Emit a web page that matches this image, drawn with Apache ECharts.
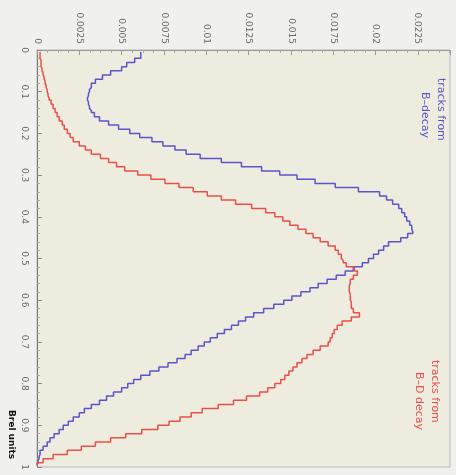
<!DOCTYPE html>
<html><head><meta charset="utf-8">
<script src="https://cdn.jsdelivr.net/npm/echarts@6/dist/echarts.min.js"></script>
<style>html,body{margin:0;padding:0;background:#f0f0ee}#c{width:456px;height:475px}</style>
</head><body><div id="c"></div>
<script>
// 100 histogram bins over the variable range 0..1 (rel. units); labels are bin centres
const binCount = 100;
const binCenters = Array.from({length: binCount}, (_, i) => ((i + 0.5) / binCount).toFixed(3));
// tracks from B-decay (blue), fraction per bin
const tracksFromB = [
  0.00613,0.00613,0.00577,0.00530,0.00500,0.00435,0.00387,0.00345,0.00321,0.00310,
  0.00304,0.00298,0.00304,0.00310,0.00321,0.00339,0.00369,0.00423,0.00482,0.00548,
  0.00607,0.00679,0.00744,0.00815,0.00881,0.00964,0.01089,0.01208,0.01327,0.01434,
  0.01536,0.01643,0.01762,0.01899,0.02024,0.02065,0.02101,0.02137,0.02155,0.02172,
  0.02184,0.02202,0.02214,0.02220,0.02190,0.02149,0.02077,0.02048,0.02018,0.01988,
  0.01958,0.01922,0.01869,0.01821,0.01768,0.01714,0.01661,0.01613,0.01559,0.01506,
  0.01458,0.01399,0.01339,0.01280,0.01232,0.01190,0.01149,0.01107,0.01065,0.01024,
  0.00988,0.00952,0.00911,0.00875,0.00827,0.00774,0.00720,0.00667,0.00613,0.00571,
  0.00536,0.00500,0.00452,0.00411,0.00369,0.00321,0.00280,0.00250,0.00214,0.00185,
  0.00155,0.00131,0.00101,0.00077,0.00060,0.00036,0.00018,0.00012,0.00006,0.00000];
// tracks from B-D decay (red), fraction per bin
const tracksFromBD = [
  0.00018,0.00018,0.00024,0.00024,0.00030,0.00036,0.00042,0.00048,0.00054,0.00060,
  0.00065,0.00071,0.00083,0.00095,0.00107,0.00119,0.00131,0.00149,0.00161,0.00179,
  0.00196,0.00214,0.00250,0.00286,0.00321,0.00375,0.00423,0.00470,0.00518,0.00595,
  0.00673,0.00756,0.00839,0.00923,0.01006,0.01089,0.01173,0.01268,0.01351,0.01405,
  0.01452,0.01494,0.01542,0.01589,0.01631,0.01673,0.01720,0.01762,0.01780,0.01798,
  0.01809,0.01827,0.01875,0.01893,0.01869,0.01851,0.01845,0.01845,0.01851,0.01851,
  0.01857,0.01857,0.01869,0.01905,0.01857,0.01803,0.01774,0.01756,0.01744,0.01732,
  0.01720,0.01673,0.01631,0.01595,0.01565,0.01536,0.01512,0.01488,0.01464,0.01440,
  0.01405,0.01363,0.01315,0.01238,0.01161,0.01071,0.00976,0.00911,0.00845,0.00780,
  0.00714,0.00619,0.00524,0.00435,0.00345,0.00262,0.00179,0.00095,0.00036,0.00000];
const valueTicks = {min: 0, max: 0.0244, interval: 0.0025};
const posTicks = {min: 0, max: 1, interval: 0.1};

const chart = echarts.init(document.getElementById('c'), null, {renderer: 'canvas'});
const lblFont = {fontFamily: 'DejaVu Sans', fontSize: 9, color: '#666'};
chart.setOption({
  backgroundColor: '#f0f0ee',
  animation: false,
  grid: {left: 37, right: 6, top: 50, bottom: 8, show: true,
         backgroundColor: '#eeecdf', borderColor: '#b8b8b8', borderWidth: 1},
  xAxis: {
    type: 'value', position: 'top', min: valueTicks.min, max: valueTicks.max,
    interval: valueTicks.interval,
    axisLine: {show: true, lineStyle: {color: '#999'}},
    axisTick: {show: true, inside: true, length: 5, lineStyle: {color: '#999'}},
    minorTick: {show: true, splitNumber: 4, length: 3, lineStyle: {color: '#aaa'}},
    splitLine: {show: false},
    axisLabel: Object.assign({rotate: -90, margin: 6, showMaxLabel: false}, lblFont)
  },
  yAxis: [
    {type: 'category', data: binCenters, inverse: true, boundaryGap: true, show: false},
    {type: 'value', position: 'left', inverse: true, min: posTicks.min, max: posTicks.max,
     interval: posTicks.interval,
     axisLine: {show: true, lineStyle: {color: '#777'}},
     axisTick: {show: true, inside: true, length: 5, lineStyle: {color: '#888'}},
     minorTick: {show: true, splitNumber: 5, length: 3, lineStyle: {color: '#aaa'}},
     splitLine: {show: false},
     axisLabel: Object.assign({rotate: -90, margin: 8}, lblFont)}
  ],
  series: [
    {name: 'tracks from B-decay', type: 'line', step: 'middle', yAxisIndex: 0,
     data: tracksFromB, showSymbol: false, lineStyle: {color: '#5a55c8', width: 1.5}},
    {name: 'tracks from B-D decay', type: 'line', step: 'middle', yAxisIndex: 0,
     data: tracksFromBD, showSymbol: false, lineStyle: {color: '#e8504a', width: 1.5}}
  ],
  graphic: [
    {type: 'text', x: 446, y: 78, rotation: -Math.PI/2,
     style: {text: 'tracks from', fill: '#5a55c8', font: '11px "DejaVu Sans"'}},
    {type: 'text', x: 430, y: 92, rotation: -Math.PI/2,
     style: {text: 'B\u2013decay', fill: '#5a55c8', font: '11px "DejaVu Sans"'}},
    {type: 'text', x: 440, y: 360, rotation: -Math.PI/2,
     style: {text: 'tracks from', fill: '#e8504a', font: '11px "DejaVu Sans"'}},
    {type: 'text', x: 424, y: 372, rotation: -Math.PI/2,
     style: {text: 'B\u2013D decay', fill: '#e8504a', font: '11px "DejaVu Sans"'}},
    {type: 'text', x: 16, y: 410, rotation: -Math.PI/2,
     style: {text: 'Brel units', fill: '#111', font: 'bold 9px "DejaVu Sans"'}}
  ]
});
</script></body></html>
